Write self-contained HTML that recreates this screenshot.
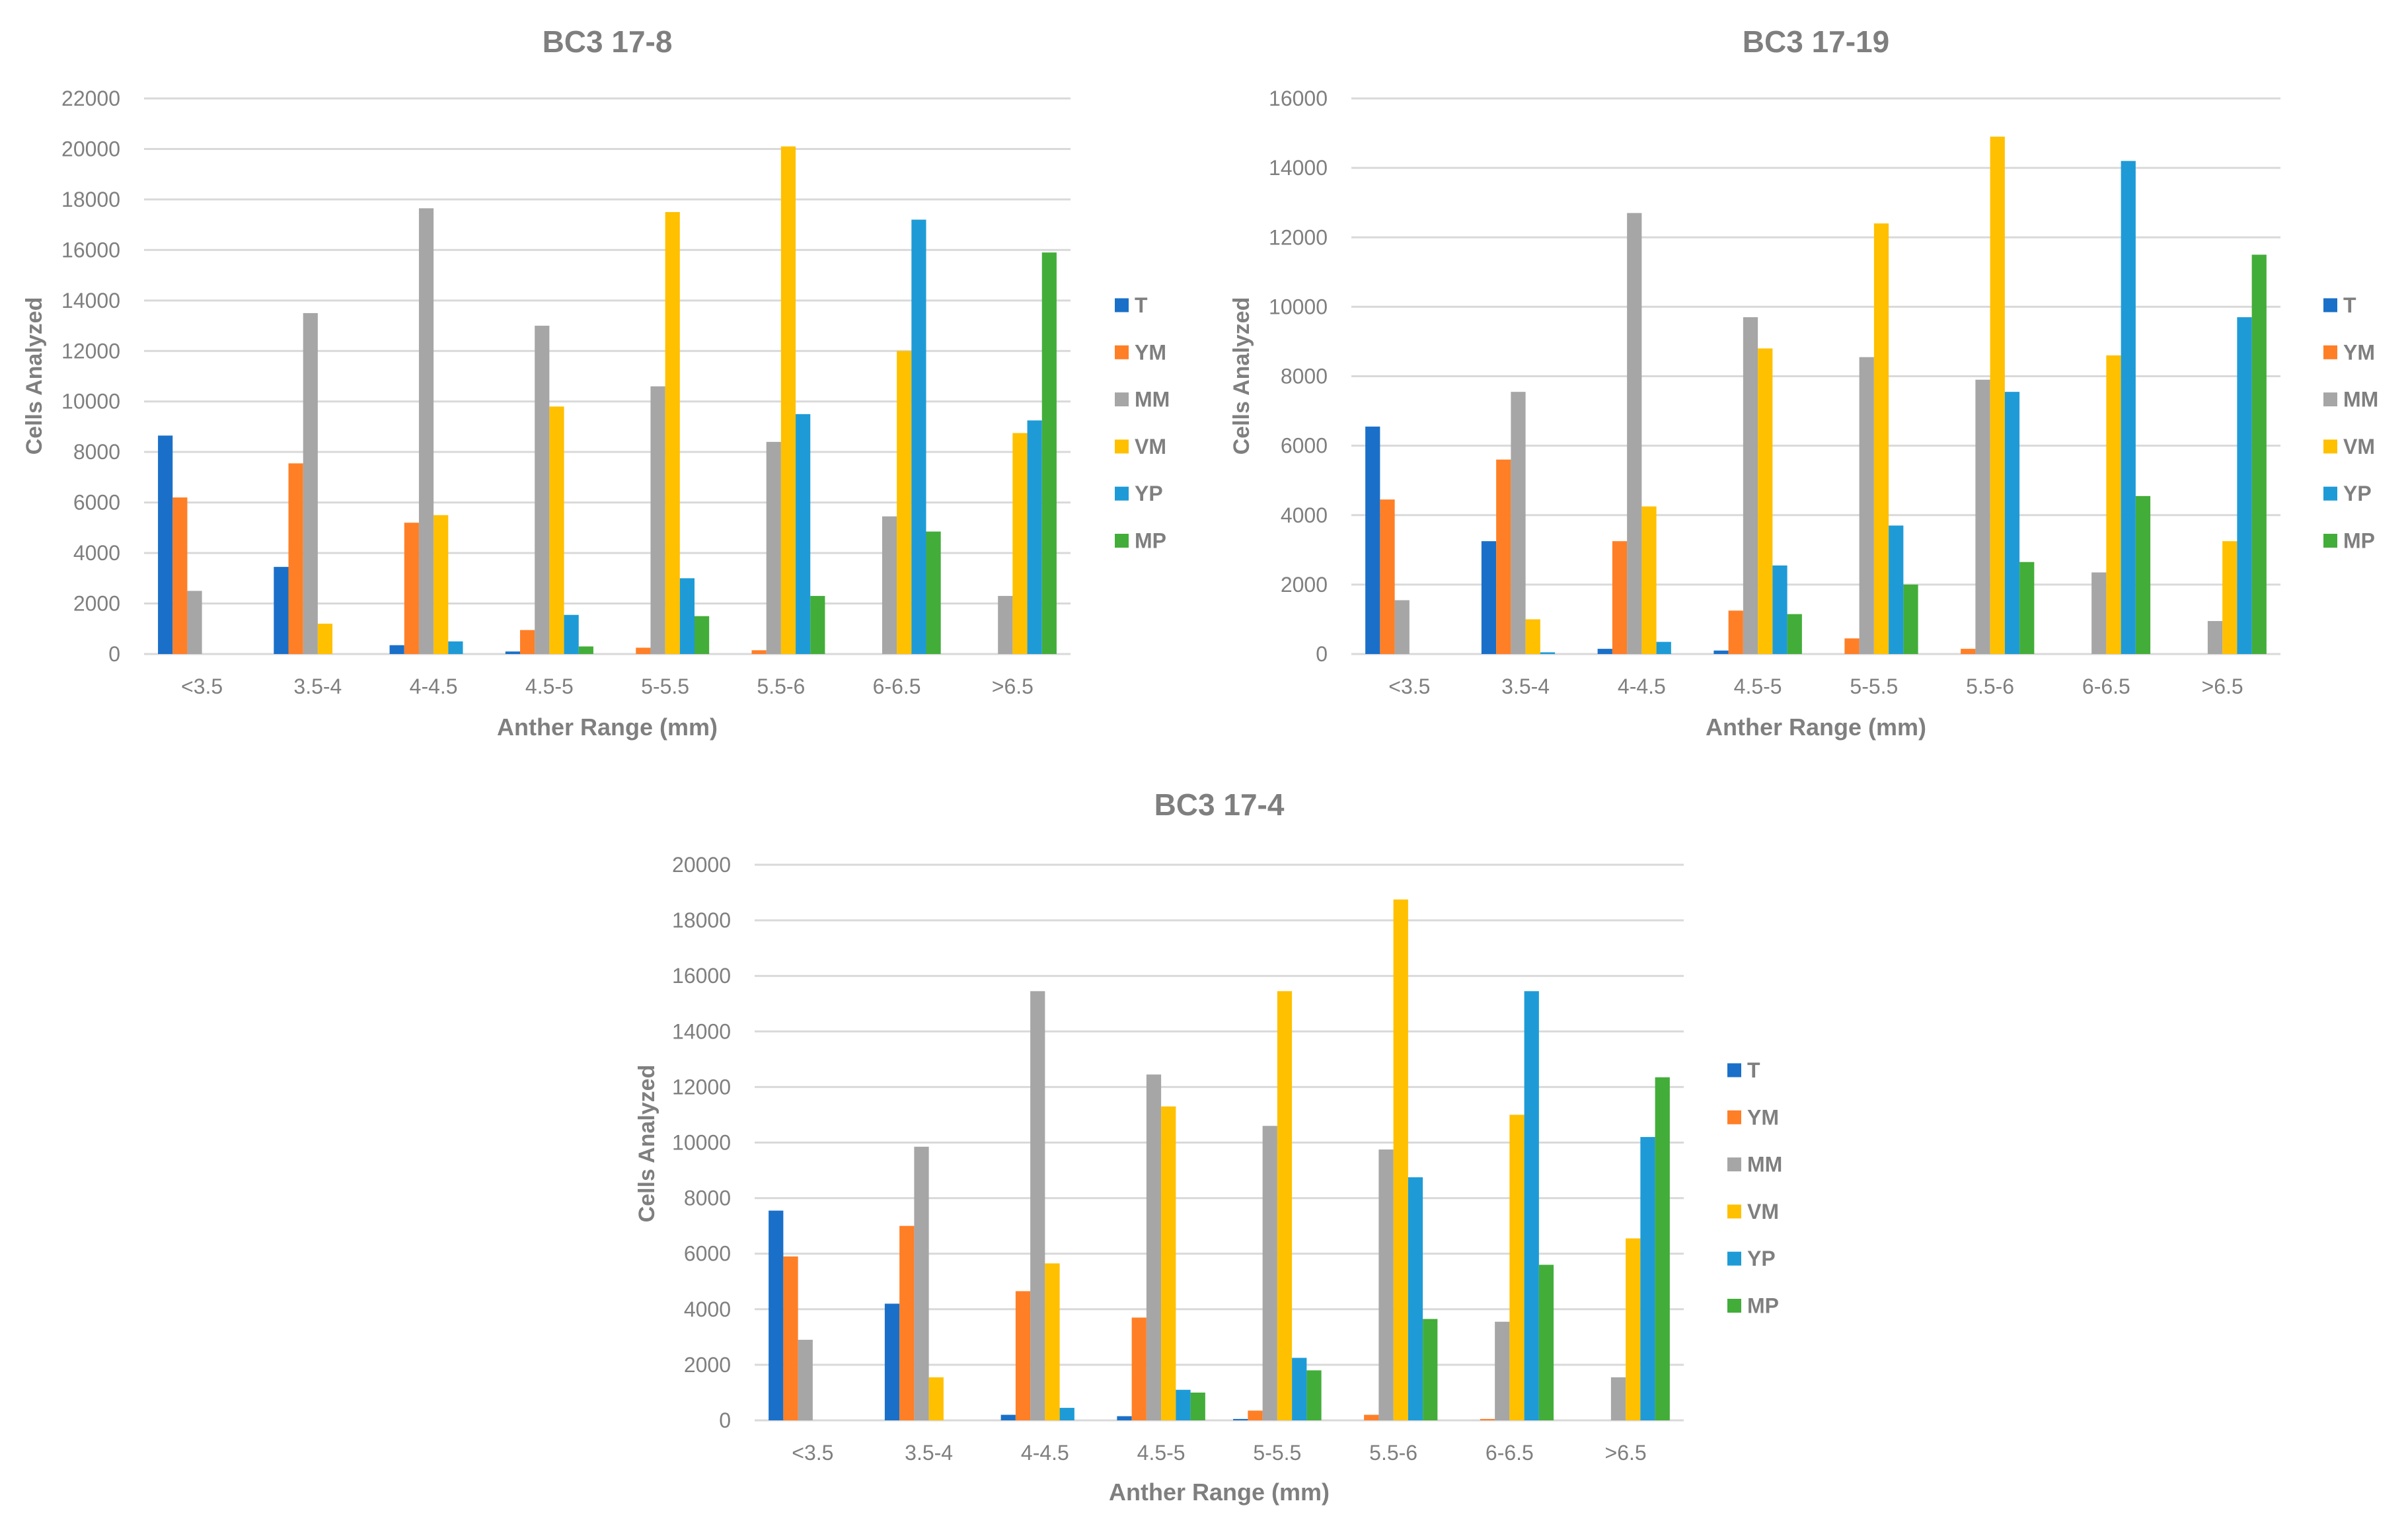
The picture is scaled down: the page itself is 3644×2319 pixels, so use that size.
<!DOCTYPE html>
<html><head><meta charset="utf-8"><style>
html,body{margin:0;padding:0;background:#fff}
svg{display:block}
text{font-family:"Liberation Sans Narrow","Liberation Sans",sans-serif;fill:#7f7f7f}
</style></head><body>
<svg id="svg" width="3644" height="2319" viewBox="0 0 3644 2319" xmlns="http://www.w3.org/2000/svg"></svg>
<script>
const categories = ["<3.5","3.5-4","4-4.5","4.5-5","5-5.5","5.5-6","6-6.5",">6.5"];
const seriesNames = ["T","YM","MM","VM","YP","MP"];
const seriesColors = ["#1a70c8","#ff7f27","#a6a6a6","#ffc000","#1e9bd7","#43ad3a"];
// chart 1: BC3 17-8
const c1T  = [8650,3450,350,100,0,0,0,0];
const c1YM = [6200,7550,5200,950,250,150,0,0];
const c1MM = [2500,13500,17650,13000,10600,8400,5450,2300];
const c1VM = [0,1200,5500,9800,17500,20100,12000,8750];
const c1YP = [0,0,500,1550,3000,9500,17200,9250];
const c1MP = [0,0,0,300,1500,2300,4850,15900];
const c1Ticks = [0,2000,4000,6000,8000,10000,12000,14000,16000,18000,20000,22000];
// chart 2: BC3 17-19
const c2T  = [6550,3250,150,100,0,0,0,0];
const c2YM = [4450,5600,3250,1250,450,150,0,0];
const c2MM = [1550,7550,12700,9700,8550,7900,2350,950];
const c2VM = [0,1000,4250,8800,12400,14900,8600,3250];
const c2YP = [0,50,350,2550,3700,7550,14200,9700];
const c2MP = [0,0,0,1150,2000,2650,4550,11500];
const c2Ticks = [0,2000,4000,6000,8000,10000,12000,14000,16000];
// chart 3: BC3 17-4
const c3T  = [7550,4200,200,150,50,0,0,0];
const c3YM = [5900,7000,4650,3700,350,200,50,0];
const c3MM = [2900,9850,15450,12450,10600,9750,3550,1550];
const c3VM = [0,1550,5650,11300,15450,18750,11000,6550];
const c3YP = [0,0,450,1100,2250,8750,15450,10200];
const c3MP = [0,0,0,1000,1800,3650,5600,12350];
const c3Ticks = [0,2000,4000,6000,8000,10000,12000,14000,16000,18000,20000];

const NS="http://www.w3.org/2000/svg";
const svg=document.getElementById('svg');
function mk(tag,attrs,parent){const e=document.createElementNS(NS,tag);for(const k in attrs)e.setAttribute(k,attrs[k]);(parent||svg).appendChild(e);return e;}

function drawChart(cfg){
  const g=mk('g',{});
  
  
  const max=cfg.ticks[cfg.ticks.length-1];
  const y=v=>cfg.y0-(v/max)*(cfg.y0-cfg.y1);
  const catW=(cfg.x1-cfg.x0)/categories.length;
  const barW=catW/7.9;
  // title
  const t=mk('text',{x:(cfg.x0+cfg.x1)/2,y:cfg.titleY,'text-anchor':'middle','font-size':46,'font-weight':'bold'},g);
  t.textContent=cfg.title;
  
  
  // grid + ticks
  cfg.ticks.forEach(v=>{
    const l=mk('line',{x1:cfg.x0,x2:cfg.x1,y1:y(v),y2:y(v),stroke:'#d9d9d9','stroke-width':3},g);
    
    
    const tl=mk('text',{x:cfg.x0-36,y:y(v)+11,'text-anchor':'end','font-size':32},g);
    tl.textContent=v;
    
    
  });
  // bars
  cfg.series.forEach((arr,si)=>{
    arr.forEach((v,ci)=>{
      const gx=cfg.x0+ci*catW+(catW-6*barW)/2+si*barW;
      const r=mk('rect',{x:gx,y:y(v),width:barW,height:y(0)-y(v),fill:seriesColors[si]},g);
      
      
    });
  });
  // category labels
  categories.forEach((c,ci)=>{
    const tl=mk('text',{x:cfg.x0+(ci+0.5)*catW,y:cfg.catY+11,'text-anchor':'middle','font-size':32},g);
    tl.textContent=c;
    
    
  });
  const xt=mk('text',{x:(cfg.x0+cfg.x1)/2,y:cfg.xtY+12,'text-anchor':'middle','font-size':36,'font-weight':'bold'},g);
  xt.textContent='Anther Range (mm)';
  
  
  const yt=mk('text',{x:0,y:0,'text-anchor':'middle','font-size':34,'font-weight':'bold',style:'font-family:"Liberation Sans",sans-serif',transform:`translate(${cfg.ytX+12},${cfg.ytY}) rotate(-90)`},g);
  yt.textContent='Cells Analyzed';
  
  
  // legend
  seriesNames.forEach((n,i)=>{
    const cy=cfg.legY+i*71.3;
    const sq=mk('rect',{x:cfg.legX,y:cy-10.5,width:21,height:21,fill:seriesColors[i]},g);
    
    
    const lt=mk('text',{x:cfg.legX+30,y:cy+11,'font-size':32,'font-weight':'bold',style:'font-family:"Liberation Sans",sans-serif'},g);
    lt.textContent=n;
    
    
  });
}
drawChart({name:'chart-bc3-17-8',title:'BC3 17-8',x0:218,x1:1620,y0:990,y1:149,ticks:c1Ticks,series:[c1T,c1YM,c1MM,c1VM,c1YP,c1MP],titleY:79,catY:1039,xtY:1101,ytX:51,ytY:569,legX:1687,legY:462});
drawChart({name:'chart-bc3-17-19',title:'BC3 17-19',x0:2045,x1:3451,y0:990,y1:149,ticks:c2Ticks,series:[c2T,c2YM,c2MM,c2VM,c2YP,c2MP],titleY:79,catY:1039,xtY:1101,ytX:1878,ytY:569,legX:3516,legY:462});
drawChart({name:'chart-bc3-17-4',title:'BC3 17-4',x0:1142,x1:2548,y0:2150,y1:1309,ticks:c3Ticks,series:[c3T,c3YM,c3MM,c3VM,c3YP,c3MP],titleY:1234,catY:2199,xtY:2259,ytX:978,ytY:1731,legX:2614,legY:1620});
</script>
</body></html>
